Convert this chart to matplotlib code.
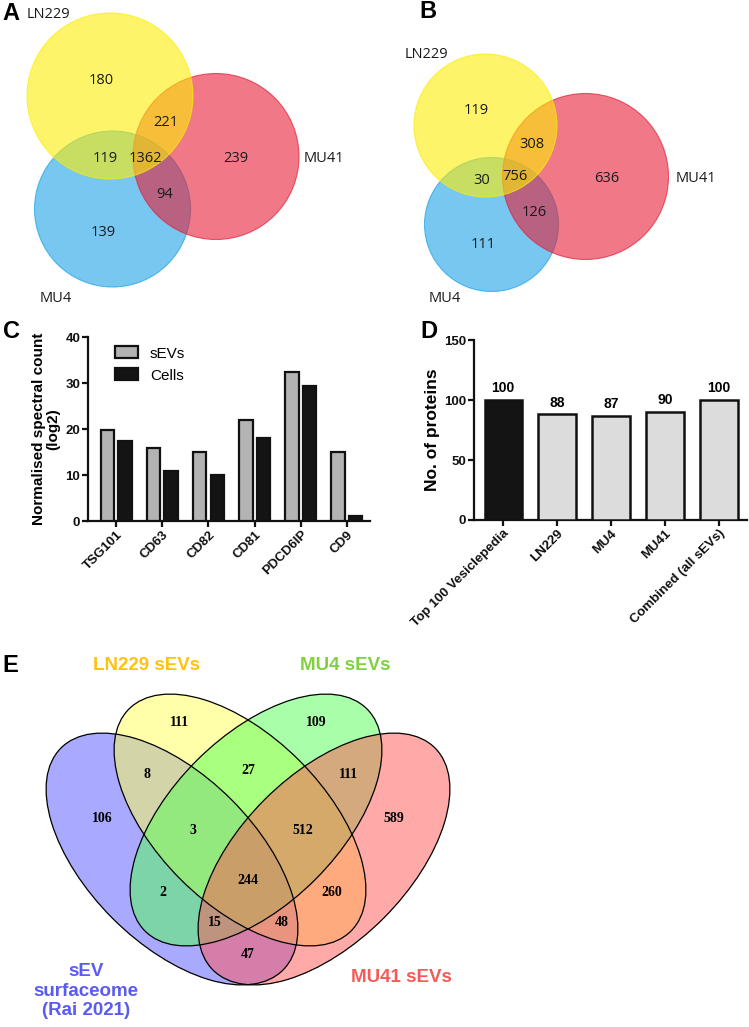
import matplotlib
matplotlib.use('Agg')
import matplotlib.pyplot as plt
from matplotlib.patches import Circle, Ellipse, Patch

# ---------------- data ----------------
# Panel A (all proteins)
a_set_labels = ['LN229', 'MU41', 'MU4']
a_region_names = ['LN229', 'LN229&MU41', 'LN229&MU4', 'all', 'MU41', 'MU4&MU41', 'MU4']
a_region_values = [180, 221, 119, 1362, 239, 94, 139]

# Panel B
b_set_labels = ['LN229', 'MU41', 'MU4']
b_region_names = ['LN229', 'LN229&MU41', 'LN229&MU4', 'all', 'MU41', 'MU4&MU41', 'MU4']
b_region_values = [119, 308, 30, 756, 636, 126, 111]

# Panel C
c_markers = ['TSG101', 'CD63', 'CD82', 'CD81', 'PDCD6IP', 'CD9']
c_sevs = [19.8, 15.9, 14.9, 21.9, 32.3, 14.9]
c_cells = [17.4, 10.8, 9.9, 18.0, 29.3, 1.1]
c_series = ['sEVs', 'Cells']
c_yticks = [0, 10, 20, 30, 40]

# Panel D
d_groups = ['Top 100 Vesiclepedia', 'LN229', 'MU4', 'MU41', 'Combined (all sEVs)']
d_values = [100, 88, 87, 90, 100]
d_yticks = [0, 50, 100, 150]

# Panel E
e_set_labels = ['sEV\nsurfaceome\n(Rai 2021)', 'LN229 sEVs', 'MU4 sEVs', 'MU41 sEVs']
e_region_names = ['S', 'L', 'M4', 'M41', 'S&L', 'L&M4', 'M4&M41', 'S&L&M4', 'L&M4&M41',
                  'S&M4', 'all', 'L&M41', 'S&M4&M41', 'S&L&M41', 'S&M41']
e_region_values = [106, 111, 109, 589, 8, 27, 111, 3, 512, 2, 244, 260, 15, 48, 47]

# ---------------- layout ----------------
W, H = 749, 1027
fig = plt.figure(figsize=(W / 100, H / 100), dpi=100)
bg = fig.add_axes([0, 0, 1, 1])
bg.set_xlim(0, W)
bg.set_ylim(H, 0)
bg.axis('off')

venn_font = 'Open Sans'
bar_font = 'Liberation Sans'
txt_col = '#1a1a1a'

def panel_letter(x, y, s):
    bg.text(x, y, s, fontsize=17, fontweight='heavy', family=bar_font,
            ha='left', va='center', color='black')

# ---- three-circle Venns (A and B) ----
col_blue = (30/255, 163/255, 230/255)
col_red = (230/255, 30/255, 55/255)
col_yel = (252/255, 238/255, 5/255)

def venn3(circles, labels, label_pos, values, value_pos):
    for name, col in [('MU4', col_blue), ('MU41', col_red), ('LN229', col_yel)]:
        cx, cy, r = circles[name]
        bg.add_patch(Circle((cx, cy), r, facecolor=col, alpha=0.6, edgecolor='none'))
        bg.add_patch(Circle((cx, cy), r, facecolor='none', edgecolor=col, alpha=0.7, lw=0.8))
    for lab, (x, y) in zip(labels, label_pos):
        bg.text(x, y, lab, fontsize=10.5, family=venn_font, ha='left', va='center', color=txt_col)
    for v, (x, y) in zip(values, value_pos):
        bg.text(x, y, str(v), fontsize=10.5, family=venn_font, ha='center', va='center', color=txt_col)

panel_letter(2, 14, 'A')
venn3({'LN229': (110, 96, 83), 'MU41': (216, 156.5, 83), 'MU4': (112.5, 209, 78)},
      a_set_labels, [(27, 14), (304, 159), (40, 299)],
      a_region_values,
      [(101, 80), (166, 122), (105, 158), (145, 158), (236, 158), (165, 194), (103, 233)])

panel_letter(419, 11, 'B')
venn3({'LN229': (485.5, 125.5, 71.5), 'MU41': (585.5, 176.5, 83), 'MU4': (491.5, 224.5, 67)},
      b_set_labels, [(405, 54), (676, 178), (429, 298)],
      b_region_values,
      [(476, 110), (532, 144), (482, 180), (515, 177), (607, 178), (534, 212), (483, 244)])

# ---- Panel C ----
panel_letter(3, 331, 'C')
axc = fig.add_axes([88 / W, 1 - 521 / H, 282 / W, 184 / H])
xc = range(len(c_markers))
bw = 0.29
axc.bar([i - 0.19 for i in xc], c_sevs, width=bw, color='#b3b3b3', edgecolor='#111111',
        linewidth=1.6, label=c_series[0], zorder=3)
axc.bar([i + 0.19 for i in xc], c_cells, width=bw, color='#141414', edgecolor='#111111',
        linewidth=1.6, label=c_series[1], zorder=3)
axc.set_xlim(-0.61, 5.5)
axc.set_ylim(0, 40)
axc.set_yticks(c_yticks)
axc.set_xticks(list(xc))
axc.set_xticklabels(c_markers, rotation=45, ha='right', rotation_mode='anchor')
axc.set_ylabel('Normalised spectral count\n(log2)', fontsize=11, fontweight='bold',
               family=bar_font, labelpad=4, linespacing=1.0)
leg = axc.legend(loc='upper left', bbox_to_anchor=(0.095, 0.95), frameon=False,
                 handlelength=1.55, handleheight=0.85, handletextpad=0.75,
                 labelspacing=0.5, borderaxespad=0, borderpad=0,
                 prop={'family': bar_font, 'size': 11})

# ---- Panel D ----
panel_letter(420, 331, 'D')
axd = fig.add_axes([474 / W, 1 - 520 / H, 273 / W, 180 / H])
xd = range(len(d_groups))
bars = axd.bar(list(xd), d_values, width=0.69,
               color=['#141414'] + ['#dcdcdc'] * (len(d_groups) - 1),
               edgecolor='#111111', linewidth=1.8, zorder=3)
for i, v in zip(xd, d_values):
    axd.text(i, v + 4, str(v), ha='center', va='bottom', fontsize=10, fontweight='bold',
             family=bar_font)
axd.set_xlim(-0.54, 4.52)
axd.set_ylim(0, 150)
axd.set_yticks(d_yticks)
axd.set_xticks(list(xd))
axd.set_xticklabels(d_groups, rotation=45, ha='right', rotation_mode='anchor')
axd.set_ylabel('No. of proteins', fontsize=12.5, fontweight='bold', family=bar_font, labelpad=3)

for ax in (axc, axd):
    for s in ('top', 'right'):
        ax.spines[s].set_visible(False)
    for s in ('left', 'bottom'):
        ax.spines[s].set_linewidth(1.6)
        ax.spines[s].set_color('#111111')
    ax.tick_params(axis='both', width=1.6, length=4, color='#111111', labelsize=9.5, pad=1.5)
    for t in ax.get_xticklabels() + ax.get_yticklabels():
        t.set_fontweight('bold')
        t.set_family(bar_font)
        t.set_color('#111111')
    ax.patch.set_alpha(0)

# ---- Panel E (four-ellipse Venn) ----
panel_letter(2, 665, 'E')
ea, eb = 157, 84
ell = [((172, 859), 45, '#5555ff'), ((240, 820), 45, '#ffff55'),
       ((256, 820), -45, '#55ff55'), ((324, 859), -45, '#ff5555')]
for (c, ang, col) in ell:
    bg.add_patch(Ellipse(c, 2 * ea, 2 * eb, angle=ang, facecolor=col, alpha=0.5, edgecolor='none'))
for (c, ang, col) in ell:
    bg.add_patch(Ellipse(c, 2 * ea, 2 * eb, angle=ang, facecolor='none', edgecolor='black', lw=0.9))

e_pos = [(102, 819), (180, 723), (316, 723), (394, 819), (147, 774), (248, 770), (349, 774),
         (193, 830), (303, 831), (163, 893), (248, 881), (332, 892), (215, 922), (282, 922),
         (248, 955)]
for v, (x, y) in zip(e_region_values, e_pos):
    bg.text(x, y, str(v), fontsize=10, fontweight='bold', family='Liberation Serif',
            ha='center', va='center', color='black')

e_label_pos = [(86, 991), (147, 665), (345, 665), (401, 977)]
e_label_col = ['#5a5af5', '#ffc20e', '#80d040', '#f55a5a']
for lab, (x, y), col in zip(e_set_labels, e_label_pos, e_label_col):
    bg.text(x, y, lab, fontsize=13.5, fontweight='bold', family=bar_font, ha='center',
            va='center', color=col, linespacing=1.2)

fig.savefig('out.png', dpi=100)
